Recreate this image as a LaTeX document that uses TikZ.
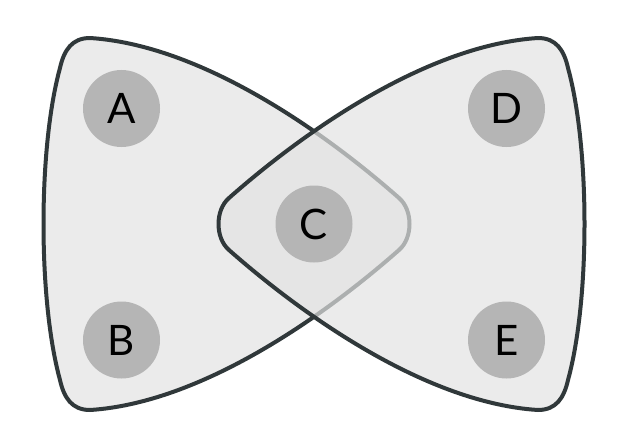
\documentclass[tikz,border=0pt]{standalone}
\usepackage{fontspec}
\setmainfont{Lato}
\usepackage{tikz}
\usetikzlibrary{shapes}

\definecolor{vertexgray}{RGB}{181,181,181}
\definecolor{edgefill}{RGB}{226,226,226}
\definecolor{edgeline}{RGB}{48,56,58}

\begin{document}
\begin{tikzpicture}[x=1pt, y=-1pt,
        vertex/.style = {circle, fill=vertexgray, minimum size=77pt, inner sep=0pt, font=\fontsize{42}{42}\selectfont},
        hedge/.style = {fill=edgefill, fill opacity=0.7, draw=edgeline, line width=4pt, line join=round}]
                \useasboundingbox (0,0) rectangle (620,433);

                % left hyperedge: A, B, C
                \draw[hedge] (90,38) .. controls (200,45) and (322,130) .. (399,198)
                        .. controls (413,210) and (413,238) .. (399,250)
                        .. controls (322,318) and (200,403) .. (90,410)
                        .. controls (72,410) and (64,398) .. (60,380)
                        .. controls (38,300) and (38,148) .. (60,68)
                        .. controls (64,50) and (72,38) .. cycle;

                % right hyperedge: C, D, E
                \draw[hedge] (538,38) .. controls (428,45) and (306,130) .. (229,198)
                        .. controls (215,210) and (215,238) .. (229,250)
                        .. controls (306,318) and (428,403) .. (538,410)
                        .. controls (556,410) and (564,398) .. (568,380)
                        .. controls (590,300) and (590,148) .. (568,68)
                        .. controls (564,50) and (556,38) .. cycle;

                \node[vertex] at (121.5, 108.5) (A) {A};
                \node[vertex] at (121.5, 340) (B) {B};
                \node[vertex] at (314, 224) (C) {C};
                \node[vertex] at (506.5, 108.5) (D) {D};
                \node[vertex] at (506.5, 340) (E) {E};
            \end{tikzpicture}
\end{document}
